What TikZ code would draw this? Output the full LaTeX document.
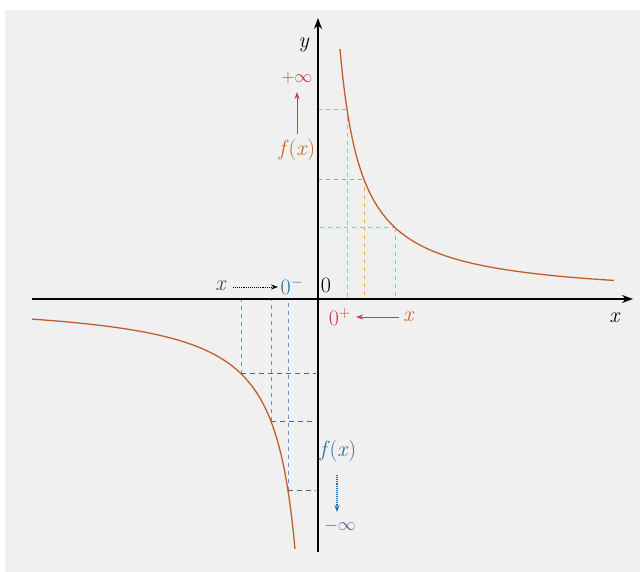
\documentclass[tikz,border=0pt]{standalone}
\usepackage{fix-cm}
\usetikzlibrary{arrows.meta}
\definecolor{bg}{RGB}{240,240,240}
\definecolor{curvec}{RGB}{190,95,45}
\definecolor{redc}{RGB}{205,60,65}
\definecolor{orc}{RGB}{200,100,40}
\definecolor{bluec}{RGB}{40,110,160}
\definecolor{greyb}{RGB}{90,110,140}
\definecolor{dashy}{RGB}{225,175,60}
\definecolor{dashb}{RGB}{100,145,190}
\definecolor{dashbh}{RGB}{80,95,135}
\tikzset{
  axis/.style={line width=1.3pt, -{Stealth[length=11pt,width=8pt]}},
  curve/.style={curvec, line width=1.3pt},
  ydash/.style={dashy, line width=1pt, dash pattern=on 4pt off 4pt},
  bdash/.style={dashb, line width=0.9pt, dash pattern=on 4pt off 4pt},
  bhdash/.style={dashbh, line width=0.8pt, dash pattern=on 5pt off 4pt},
  lbl/.style={inner sep=1pt, font=\fontsize{22}{25}\selectfont},
  inflbl/.style={inner sep=1pt, font=\fontsize{18}{21}\selectfont},
  tip/.style={-{Stealth[length=7pt,width=5pt]}},
}
\begin{document}
\begin{tikzpicture}[x=1pt,y=-1pt]
\useasboundingbox (0,0) rectangle (640,572);
\fill[bg] (5,10) rectangle (640,572);
% dashed guides right
\coordinate (O) at (318,299);
\coordinate (r1) at (347,{299-5500/29});
\coordinate (r2) at (364,{299-5500/46});
\coordinate (r3) at (395,{299-5500/77});
\draw[ydash] (r1) -- (347,299);
\draw[ydash] (r2) -- (364,299);
\draw[ydash] (r3) -- (395,299);
\draw[ydash] (318,{299-5500/29}) -- (r1);
\draw[ydash, color=gray!70] (318,{299-5500/46}) -- (r2);
\draw[ydash] (320,{299-5500/77}) -- (r3);
% dashed guides left
\coordinate (l1) at (241,{299+5750/77});
\coordinate (l2) at (271,{299+5750/47});
\coordinate (l3) at (288,{299+5750/30});
\draw[bdash] (l1) -- (241,299);
\draw[bdash] (l2) -- (271,299);
\draw[bdash] (l3) -- (288,299);
\draw[bhdash] (l1) -- (316,{299+5750/77});
\draw[bhdash] (l2) -- (316,{299+5750/47});
\draw[bhdash] (l3) -- (316,{299+5750/30});
% axes
\draw[axis] (32,299) -- (633,299);
\draw[axis] (318,552) -- (318,18);
% curves
\draw[curve] plot[domain=22:296, samples=200] ({318+\x},{299-5500/\x});
\draw[curve] plot[domain=-286:-23, samples=200] ({318+\x},{299-5750/\x});
% labels
\node[lbl] (ylab) at (304,45) {\textit{y}};
\node[lbl] (xlab) at (615,318) {\textit{x}};
\node[lbl] (zero) at (326,285) {0};
\node[inflbl, redc] (pinf) at (297,78) {$+\infty$};
\node[lbl, orc] (fx1) at (297,150) {\textit{f}(\textit{x})};
\draw[redc, line width=1pt, tip] (297,134) -- (297,92);
\node[lbl, greyb!60!black] (xl) at (221,286) {\textit{x}};
\node[lbl, bluec] (zm) at (292,286) {0$^{-}$};
\draw[line width=0.9pt, densely dotted, tip] (233,287) -- (278,287);
\node[lbl, redc] (zp) at (340,317) {0$^{+}$};
\node[lbl, orc] (xr) at (409,317) {\textit{x}};
\draw[redc, line width=1pt, tip] (399,317) -- (356,317);
\node[lbl, bluec] (fx2) at (338,451) {\textit{f}(\textit{x})};
\node[inflbl, greyb] (minf) at (340,526) {$-\infty$};
\draw[bluec, line width=1.1pt, densely dotted, tip] (337,475) -- (337,512);
\end{tikzpicture}
\end{document}
